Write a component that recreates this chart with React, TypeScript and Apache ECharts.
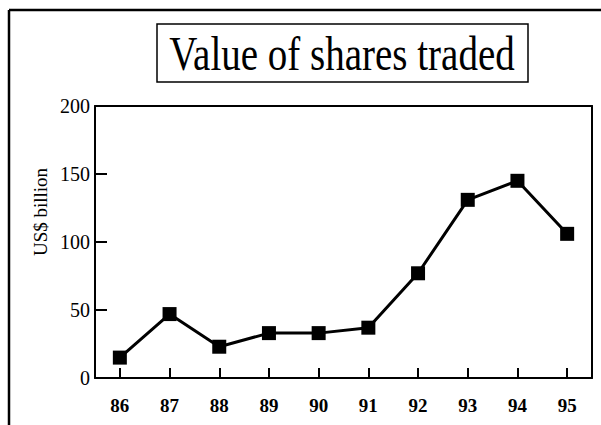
import React, { useEffect, useRef } from "react";
import * as echarts from "echarts";

const years = ["86", "87", "88", "89", "90", "91", "92", "93", "94", "95"];
const values = [15, 47, 23, 33, 33, 37, 77, 131, 145, 106];
const yTicks = { min: 0, max: 200, interval: 50 };
const titleText = "Value of shares traded";
const yName = "US$ billion";

export default function App() {
  const ref = useRef<HTMLDivElement>(null);
  useEffect(() => {
    const chart = echarts.init(ref.current!, null, { renderer: "svg" });
    const serif = "'Liberation Serif', 'Times New Roman', serif";
    const frameAxis = {
      show: true,
      axisLine: { show: true, onZero: false, lineStyle: { color: "#000", width: 2 } },
      axisTick: { show: false },
      axisLabel: { show: false },
      splitLine: { show: false },
    };
    chart.setOption({
      animation: false,
      backgroundColor: "#ffffff",
      grid: {
        left: 95,
        right: 9,
        top: 106,
        bottom: 47,
        show: false,
      },
      xAxis: [
        {
          type: "category",
          data: years,
          boundaryGap: true,
          position: "bottom",
          axisLine: { show: true, onZero: false, lineStyle: { color: "#000", width: 2 } },
          axisTick: {
            show: true,
            alignWithLabel: true,
            inside: true,
            length: 10,
            lineStyle: { color: "#000", width: 2 },
          },
          axisLabel: {
            color: "#000",
            fontFamily: serif,
            fontSize: 19,
            fontWeight: "bold",
            margin: 18,
          },
          splitLine: { show: false },
        },
        { type: "category", data: years, position: "top", ...frameAxis },
      ],
      yAxis: [
        {
          type: "value",
          min: yTicks.min,
          max: yTicks.max,
          interval: yTicks.interval,
          position: "left",
          axisLine: { show: true, onZero: false, lineStyle: { color: "#000", width: 2 } },
          axisTick: {
            show: true,
            inside: true,
            length: 12,
            lineStyle: { color: "#000", width: 2 },
          },
          axisLabel: {
            color: "#000",
            fontFamily: serif,
            fontSize: 20,
            margin: 5,
          },
          splitLine: { show: false },
        },
        {
          type: "value",
          min: yTicks.min,
          max: yTicks.max,
          interval: yTicks.interval,
          position: "right",
          ...frameAxis,
        },
      ],
      series: [
        {
          type: "line",
          xAxisIndex: 0,
          yAxisIndex: 0,
          data: values,
          symbol: "rect",
          symbolSize: 14,
          lineStyle: { color: "#000", width: 3 },
          itemStyle: { color: "#000" },
        },
      ],
      graphic: [
        {
          type: "line",
          shape: { x1: 9, y1: 10, x2: 601, y2: 10 },
          style: { stroke: "#000", lineWidth: 2.5 },
        },
        {
          type: "line",
          shape: { x1: 9, y1: 10, x2: 9, y2: 425 },
          style: { stroke: "#000", lineWidth: 2.5 },
        },
        {
          type: "rect",
          shape: { x: 157, y: 24, width: 371, height: 58 },
          style: { fill: "none", stroke: "#000", lineWidth: 1.5 },
        },
        {
          type: "text",
          x: 342,
          y: 54,
          scaleY: 1.22,
          style: {
            text: titleText,
            fill: "#000",
            font: `39px ${serif}`,
            align: "center",
            verticalAlign: "middle",
          },
        },
        {
          type: "text",
          x: 40,
          y: 212,
          rotation: Math.PI / 2,
          style: {
            text: yName,
            fill: "#000",
            font: `19px ${serif}`,
            align: "center",
            verticalAlign: "middle",
          },
        },
      ],
    });
    return () => chart.dispose();
  }, []);
  return (
    <div
      ref={ref}
      style={{ position: "fixed", left: 0, top: 0, width: 601, height: 425 }}
    />
  );
}
